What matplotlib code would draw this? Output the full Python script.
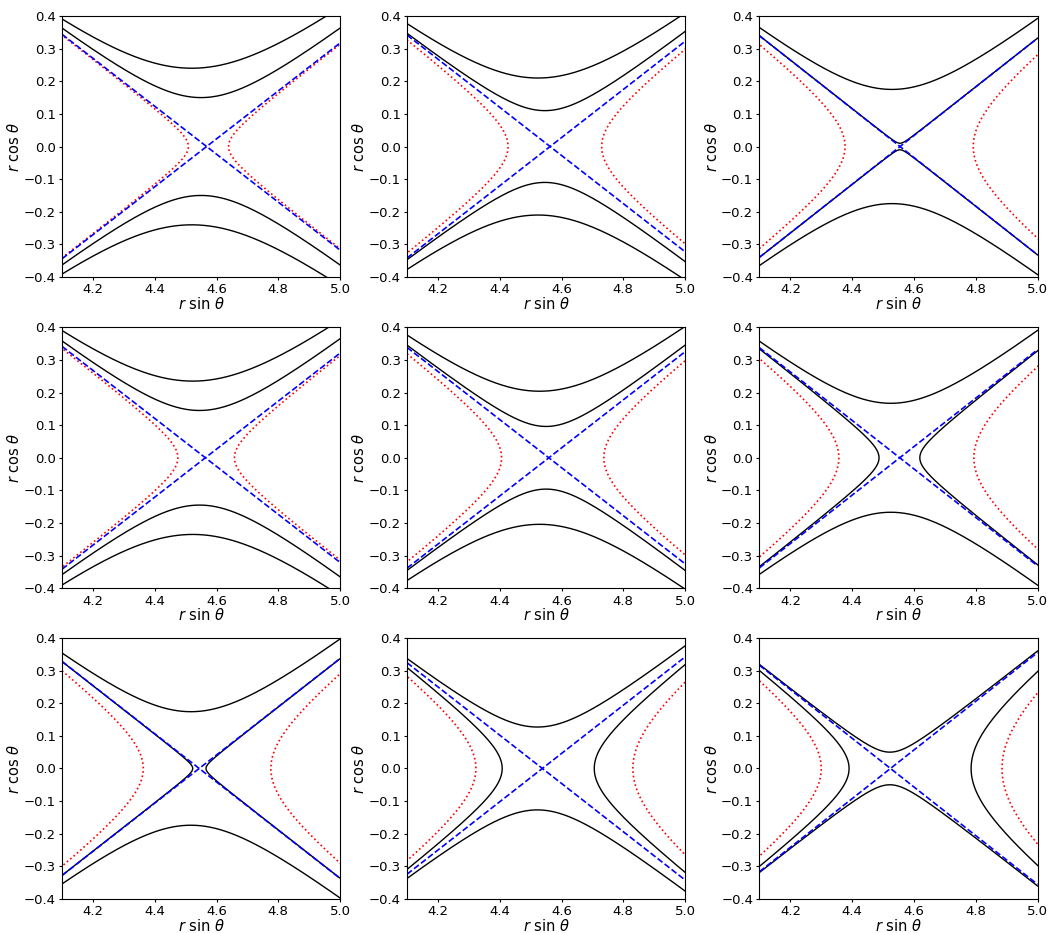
import numpy as np
import matplotlib
matplotlib.use('Agg')
import matplotlib.pyplot as plt

# 每个子图：渐近线交点、斜率
cross_x = [4.568, 4.563, 4.555, 4.564, 4.559, 4.554, 4.544, 4.538, 4.524]
slope = [0.735, 0.738, 0.746, 0.736, 0.737, 0.743, 0.739, 0.740, 0.746]

# 黑线（上下开口）：顶点 y 与顶点 x
black_top_y = [[0.24, 0.15], [0.21, 0.11], [0.175, 0.01],
               [0.235, 0.145], [0.204, 0.096], [0.167],
               [0.174], [0.127], [0.05]]
black_top_x = [[4.52, 4.55], [4.524, 4.546], [4.529, 4.555],
               [4.523, 4.545], [4.529, 4.55], [4.525],
               [4.517], [4.522], [4.522]]

# 黑线（左右开口）：左右顶点 x
black_side_x = [None, None, None,
                None, None, (4.487, 4.619),
                (4.523, 4.566), (4.408, 4.706), (4.39, 4.785)]

# 红色点线（左右开口）：左右顶点 x
red_side_x = [(4.509, 4.639), (4.427, 4.730), (4.377, 4.792),
              (4.475, 4.658), (4.406, 4.737), (4.357, 4.794),
              (4.363, 4.776), (4.323, 4.831), (4.30, 4.885)]

x_min, x_max = 4.1, 5.0
y_min, y_max = -0.4, 0.4

col_left = [0.0592, 0.3884, 0.7247]
row_bottom = [0.7031, 0.3695, 0.0365]
ax_w, ax_h = 0.2653, 0.2797

fig = plt.figure(figsize=(10.48, 9.33), dpi=100)

xs = np.linspace(x_min, x_max, 600)
ys = np.linspace(y_min, y_max, 600)


def side_branches(ax, x0, m, nose, style, **kw):
    aL = x0 - nose[0]
    aR = nose[1] - x0
    ax.plot(x0 - np.sqrt(aL ** 2 + (ys / m) ** 2), ys, style, **kw)
    ax.plot(x0 + np.sqrt(aR ** 2 + (ys / m) ** 2), ys, style, **kw)


for i in range(9):
    r, c = divmod(i, 3)
    ax = fig.add_axes([col_left[c], row_bottom[r], ax_w, ax_h])
    x0 = cross_x[i]
    m = slope[i]

    # 黑线
    for b, xv in zip(black_top_y[i], black_top_x[i]):
        yy = np.sqrt(b ** 2 + m ** 2 * (xs - xv) ** 2)
        ax.plot(xs, yy, 'k-', lw=1.0)
        ax.plot(xs, -yy, 'k-', lw=1.0)
    if black_side_x[i] is not None:
        side_branches(ax, x0, m, black_side_x[i], 'k-', lw=1.0)

    # 红色点线
    side_branches(ax, x0, m, red_side_x[i], 'r:', lw=1.2)

    # 蓝色渐近线
    lx = np.array([x_min, x_max])
    ax.plot(lx, m * (lx - x0), 'b--', lw=1.2)
    ax.plot(lx, -m * (lx - x0), 'b--', lw=1.2)

    ax.set_xlim(x_min, x_max)
    ax.set_ylim(y_min, y_max)
    ax.set_xticks([4.2, 4.4, 4.6, 4.8, 5.0])
    ax.set_yticks(np.arange(-4, 5) / 10)
    ax.tick_params(labelsize=9.5, length=2.5, pad=2)
    ax.set_xlabel(r'$r$ sin $\theta$', fontsize=10.5, labelpad=-0.5)
    ax.set_ylabel(r'$r$ cos $\theta$', fontsize=10.5, labelpad=1)

fig.savefig('out.png', dpi=100)
